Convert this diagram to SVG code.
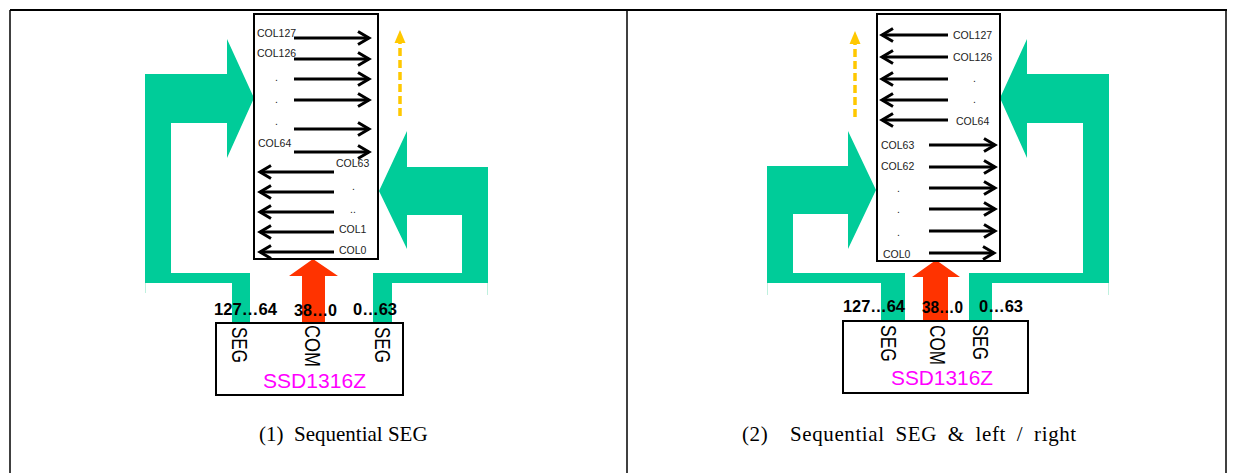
<svg xmlns="http://www.w3.org/2000/svg" width="1236" height="473" viewBox="0 0 1236 473">
  <style>
    .frame { stroke: #000; fill: none; }
    .panel { fill: #fff; stroke: #000; stroke-width: 2; }
    .seg { fill: #00CC99; }
    .com { fill: #FF3300; }
    .row { stroke: #000; stroke-width: 3; fill: none; marker-end: url(#chev); }
    .scan { stroke: #FFC800; stroke-width: 3.5; stroke-dasharray: 8 4; fill: none; }
    .scanhead { fill: #FFC800; }
    .col { font-family: "Liberation Sans", Arial, sans-serif; font-size: 10.5px; fill: #222; }
    .pin { font-family: "Liberation Sans", Arial, sans-serif; font-size: 16px; font-weight: bold; fill: #000; }
    .bus { font-family: "Liberation Sans", Arial, sans-serif; font-size: 22px; fill: #000; }
    .chip { font-family: "Liberation Sans", Arial, sans-serif; font-size: 21px; fill: #FF00FF; }
    .caption { font-family: "Liberation Serif", "Times New Roman", serif; font-size: 21px; fill: #000; }
    .edge { stroke: #bff0de; stroke-width: 1; }
  </style>
  <defs>
    <marker id="chev" viewBox="-2 -2 16 17" markerWidth="16" markerHeight="17" refX="11" refY="6.5" orient="auto" markerUnits="userSpaceOnUse">
      <path d="M0,0 L11,6.5 L0,13" fill="none" stroke="#000" stroke-width="3"/>
    </marker>
  </defs>

  <rect width="1236" height="473" fill="#fff"/>

  <!-- table frame -->
  <g id="frame" class="frame">
    <line x1="10" y1="10" x2="1227" y2="10" stroke-width="2"/>
    <line x1="10" y1="10" x2="10" y2="473" stroke-width="1.5"/>
    <line x1="627" y1="10" x2="627" y2="473" stroke-width="1.5"/>
    <line x1="1226" y1="10" x2="1226" y2="473" stroke-width="1.5"/>
  </g>

  <!-- connectors: SEG buses (green), COM bus (red), scan direction (yellow) -->
  <g id="connectors">
    <path class="seg" d="M145,74 L227,74 L227,39 L254,98 L227,158 L227,123 L171,123 L171,273 L250,273 L250,323 L232,323 L232,283 L145,283 Z"/>
    <path class="seg" d="M379,191 L407,131 L407,167 L488,167 L488,283 L392,283 L392,323 L373,323 L373,273 L462,273 L462,215 L407,215 L407,249 Z"/>
    <path class="com" d="M313,259 L338,276 L325,276 L325,323 L302,323 L302,276 L289,276 Z"/>
    <line class="edge" x1="145.5" y1="283" x2="145.5" y2="293"/>
    <line class="edge" x1="487.5" y1="283" x2="487.5" y2="295"/>
    <line class="scan" x1="400" y1="116" x2="400" y2="42"/>
    <path class="scanhead" d="M394.5,43 L400,30 L405.5,43 Z"/>

    <path class="seg" d="M767,166 L848,166 L848,131 L876,190 L848,249 L848,214 L793,214 L793,273 L905,273 L905,321 L881,321 L881,283 L767,283 Z"/>
    <path class="seg" d="M1000,98 L1027,39 L1027,74 L1109,74 L1109,283 L992,283 L992,321 L969,321 L969,273 L1083,273 L1083,123 L1027,123 L1027,158 Z"/>
    <path class="com" d="M936,260 L960,277 L948,277 L948,321 L923,321 L923,277 L912,277 Z"/>
    <line class="edge" x1="767.5" y1="283" x2="767.5" y2="295"/>
    <line class="edge" x1="1108.5" y1="283" x2="1108.5" y2="295"/>
    <line class="scan" x1="855" y1="117" x2="855" y2="43"/>
    <path class="scanhead" d="M849.5,44 L855,31 L860.5,44 Z"/>
  </g>

  <!-- panel (1): display columns -->
  <g id="display-1">
    <rect class="panel" x="254" y="14" width="124" height="245"/>
    <line class="row" x1="294" y1="38" x2="369" y2="38"/>
    <line class="row" x1="294" y1="59" x2="369" y2="59"/>
    <line class="row" x1="294" y1="79" x2="369" y2="79"/>
    <line class="row" x1="294" y1="100" x2="369" y2="100"/>
    <line class="row" x1="294" y1="129" x2="369" y2="129"/>
    <line class="row" x1="294" y1="152" x2="369" y2="152"/>
    <line class="row" x1="334" y1="172" x2="260" y2="172"/>
    <line class="row" x1="334" y1="192" x2="260" y2="192"/>
    <line class="row" x1="334" y1="212" x2="260" y2="212"/>
    <line class="row" x1="334" y1="232" x2="260" y2="232"/>
    <line class="row" x1="334" y1="252" x2="260" y2="252"/>
    <text class="col" x="257" y="37">COL127</text>
    <text class="col" x="257" y="57">COL126</text>
    <text class="col" x="275" y="81">.</text>
    <text class="col" x="275" y="103">.</text>
    <text class="col" x="275" y="125">.</text>
    <text class="col" x="258" y="147">COL64</text>
    <text class="col" x="336" y="167">COL63</text>
    <text class="col" x="352" y="190">.</text>
    <text class="col" x="350" y="213">..</text>
    <text class="col" x="339" y="233">COL1</text>
    <text class="col" x="339" y="254">COL0</text>
  </g>

  <!-- panel (1): driver -->
  <g id="driver-1">
    <rect class="panel" x="216" y="323" width="187" height="72"/>
    <text class="bus" transform="translate(232,327) rotate(90)" textLength="36" lengthAdjust="spacingAndGlyphs">SEG</text>
    <text class="bus" transform="translate(305,325) rotate(90)" textLength="42" lengthAdjust="spacingAndGlyphs">COM</text>
    <text class="bus" transform="translate(375,327) rotate(90)" textLength="36" lengthAdjust="spacingAndGlyphs">SEG</text>
    <text class="chip" x="263" y="388" textLength="103" lengthAdjust="spacingAndGlyphs">SSD1316Z</text>
  </g>

  <g id="pins-1">
    <text class="pin" x="214" y="315" textLength="63" lengthAdjust="spacingAndGlyphs">127…64</text>
    <text class="pin" x="294" y="316" textLength="43" lengthAdjust="spacingAndGlyphs">38…0</text>
    <text class="pin" x="353" y="315" textLength="44" lengthAdjust="spacingAndGlyphs">0…63</text>
  </g>

  <text id="caption-1" class="caption" x="259" y="441" xml:space="preserve">(1)  Sequential SEG</text>

  <!-- panel (2): display columns -->
  <g id="display-2">
    <rect class="panel" x="877" y="14" width="123" height="247"/>
    <line class="row" x1="948" y1="35" x2="882" y2="35"/>
    <line class="row" x1="948" y1="57" x2="882" y2="57"/>
    <line class="row" x1="948" y1="79" x2="882" y2="79"/>
    <line class="row" x1="948" y1="100" x2="882" y2="100"/>
    <line class="row" x1="948" y1="120" x2="882" y2="120"/>
    <line class="row" x1="929" y1="145" x2="995" y2="145"/>
    <line class="row" x1="929" y1="167" x2="995" y2="167"/>
    <line class="row" x1="929" y1="188" x2="995" y2="188"/>
    <line class="row" x1="929" y1="209" x2="995" y2="209"/>
    <line class="row" x1="929" y1="231" x2="995" y2="231"/>
    <line class="row" x1="929" y1="253" x2="994" y2="253"/>
    <text class="col" x="953" y="39">COL127</text>
    <text class="col" x="953" y="61">COL126</text>
    <text class="col" x="973" y="82">.</text>
    <text class="col" x="973" y="103">.</text>
    <text class="col" x="956" y="125">COL64</text>
    <text class="col" x="881" y="149">COL63</text>
    <text class="col" x="881" y="170">COL62</text>
    <text class="col" x="897" y="192">.</text>
    <text class="col" x="897" y="213">.</text>
    <text class="col" x="897" y="236">.</text>
    <text class="col" x="883" y="258">COL0</text>
  </g>

  <!-- panel (2): driver -->
  <g id="driver-2">
    <rect class="panel" x="843" y="321" width="185" height="72"/>
    <text class="bus" transform="translate(881,325) rotate(90)" textLength="37" lengthAdjust="spacingAndGlyphs">SEG</text>
    <text class="bus" transform="translate(930,325) rotate(90)" textLength="40" lengthAdjust="spacingAndGlyphs">COM</text>
    <text class="bus" transform="translate(973,325) rotate(90)" textLength="35" lengthAdjust="spacingAndGlyphs">SEG</text>
    <text class="chip" x="891" y="385" textLength="102" lengthAdjust="spacingAndGlyphs">SSD1316Z</text>
  </g>

  <g id="pins-2">
    <text class="pin" x="843" y="312" textLength="62" lengthAdjust="spacingAndGlyphs">127…64</text>
    <text class="pin" x="922" y="313" textLength="41" lengthAdjust="spacingAndGlyphs">38…0</text>
    <text class="pin" x="979" y="312" textLength="44" lengthAdjust="spacingAndGlyphs">0…63</text>
  </g>

  <text id="caption-2" class="caption" x="742" y="441" xml:space="preserve" word-spacing="5" letter-spacing="0.6">(2)  Sequential SEG &amp; left / right</text>
</svg>
